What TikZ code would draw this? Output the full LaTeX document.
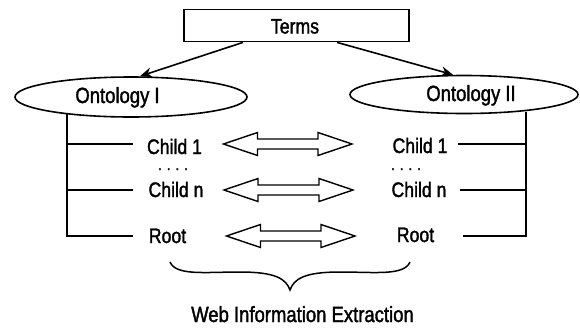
\documentclass[tikz,border=0pt]{standalone}
\usepackage{fontspec}
\setmainfont{Liberation Sans}[FakeStretch=0.84,FakeBold=1.6]
\usetikzlibrary{arrows.meta,shapes.geometric}
\begin{document}
\begin{tikzpicture}[x=1pt,y=-1pt,line width=1.5pt,
  lbl/.style={inner sep=0pt,anchor=base,font=\fontsize{21}{24}\selectfont},
  biglbl/.style={lbl,font=\fontsize{22}{26}\selectfont},
  dotrow/.style={inner sep=0pt,anchor=base,font=\fontsize{16}{18}\selectfont},
  oval/.style={draw,ellipse,inner sep=0pt,line width=1.6pt},
  dblarrow/.style={draw,line width=1.4pt,line join=miter,fill=white},
  tip/.style={-{Stealth[length=12pt,width=10pt]},line width=1.6pt}]
\useasboundingbox (0,0) rectangle (580,330);

% Terms box
\node[draw,line width=1.8pt,minimum width=225pt,minimum height=32pt,inner sep=0pt] (terms) at (296.5,25.5) {};
\node[lbl] (termst) at (295,33.5) {Terms};

% Ontology ellipses
\node[oval,minimum width=232pt,minimum height=40pt] (oI) at (131,97) {};
\node[biglbl] (oIt) at (117.5,103) {Ontology I};
\node[oval,minimum width=228pt,minimum height=38pt] (oII) at (464,94.5) {};
\node[biglbl] (oIIt) at (471,101) {Ontology II};

% arrows from Terms
\draw[tip] ([xshift=-53.5pt]terms.south) -- ([xshift=9pt]oI.north);
\draw[tip] ([xshift=40.5pt]terms.south) -- ([xshift=-11pt]oII.north);

% left labels
\node[lbl] (l1) at (174.5,154) {Child 1};
\node[dotrow] (ld) at (173,170) {.\hspace{5pt}.\hspace{5pt}.\hspace{5pt}.};
\node[lbl] (l2) at (176,197) {Child n};
\node[lbl] (l3) at (167.5,243) {Root};

% right labels
\node[lbl] (r1) at (420,153) {Child 1};
\node[dotrow] (rd) at (406,170) {.\hspace{5pt}.\hspace{5pt}.\hspace{5pt}.};
\node[lbl] (r2) at (419,197) {Child n};
\node[lbl] (r3) at (415.5,242) {Root};

% left tree
\coordinate (lt) at (67,113.5);
\coordinate (lb) at (67,236);
\coordinate (l1e) at (133,144);
\coordinate (l2e) at (133,190);
\coordinate (l3e) at (133,236);
\draw (lt) -- (lb) -- (l3e);
\draw (lt |- l1e) -- (l1e);
\draw (lt |- l2e) -- (l2e);

% right tree
\coordinate (rt) at (526,112);
\coordinate (rb) at (526,236);
\coordinate (r1e) at (458,144);
\coordinate (r2e) at (460,190);
\coordinate (r3e) at (463,236);
\draw (rt) -- (rb) -- (r3e);
\draw (rt |- r1e) -- (r1e);
\draw (rt |- r2e) -- (r2e);

% double arrows
\foreach \yy/\xl/\xr in {144/223.5/352, 190/224/353, 236/226.5/355}{
  \draw[dblarrow] (\xl,\yy) -- ++(34,-11.5) -- ++(0,6.5) -- (\xr-34,\yy-5)
     -- ++(0,-6.5) -- (\xr,\yy) -- ++(-34,11.5) -- ++(0,-6.5) -- (\xl+34,\yy+5)
     -- ++(0,6.5) -- cycle;
}

% brace
\coordinate (bl) at (170,262);
\coordinate (bt) at (290,290);
\coordinate (br) at (410,262);
\draw[line width=1.5pt] (bl) .. controls (176,276) and (205,272) .. (240,272)
   .. controls (276,272) and (286,279) .. (bt)
   .. controls (294,279) and (304,272) .. (340,272)
   .. controls (375,272) and (404,276) .. (br);

\node[biglbl] (wie) at (302.5,322) {Web Information Extraction};
\end{tikzpicture}
\end{document}
